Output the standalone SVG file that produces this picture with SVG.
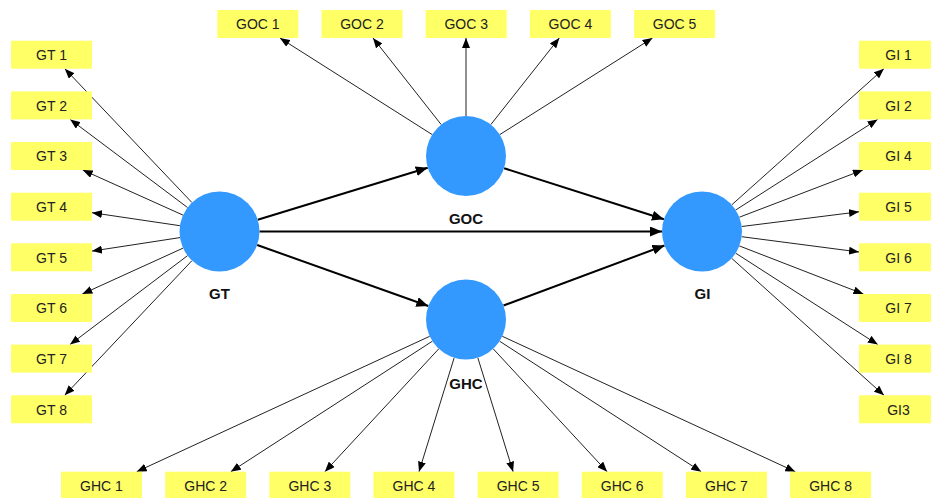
<svg xmlns="http://www.w3.org/2000/svg" width="931" height="498" viewBox="0 0 931 498">
<style>
.box{fill:#FFFF66}
.bt{font-family:"Liberation Sans",Arial,sans-serif;font-size:14px;fill:#222;text-anchor:middle}
.lv{fill:#3399FF}
.lt{font-family:"Liberation Sans",Arial,sans-serif;font-size:15px;font-weight:bold;fill:#111;text-anchor:middle}
.thin{stroke:#222;stroke-width:1;fill:none;marker-end:url(#ah)}
.thick{stroke:#000;stroke-width:2;fill:none;marker-end:url(#ahb)}
</style>
<defs>
<marker id="ah" markerUnits="userSpaceOnUse" markerWidth="10" markerHeight="8" refX="10" refY="4" orient="auto"><path d="M0,0 L10,4 L0,8 z" fill="#000"/></marker>
<marker id="ahb" markerUnits="userSpaceOnUse" markerWidth="12" markerHeight="10" refX="12" refY="5" orient="auto"><path d="M0,0 L12,5 L0,10 z" fill="#000"/></marker>
</defs>
<rect width="931" height="498" fill="#fff"/>
<g id="connectors">
<line class="thin" x1="191.9" y1="202.5" x2="64.8" y2="68.7"/>
<line class="thin" x1="187.5" y1="207.5" x2="70.2" y2="119.4"/>
<line class="thin" x1="183.0" y1="215.1" x2="82.7" y2="170"/>
<line class="thin" x1="179.9" y1="225.7" x2="92" y2="212.7"/>
<line class="thin" x1="180.0" y1="237.6" x2="92" y2="251.1"/>
<line class="thin" x1="183.1" y1="248.1" x2="82.3" y2="294"/>
<line class="thin" x1="187.6" y1="255.6" x2="70.0" y2="344.6"/>
<line class="thin" x1="192.0" y1="260.6" x2="64.7" y2="395.3"/>
<line class="thin" x1="731.8" y1="204.8" x2="883.9" y2="68.7"/>
<line class="thin" x1="735.7" y1="210.0" x2="877.6" y2="119.4"/>
<line class="thin" x1="739.4" y1="217.2" x2="862.9" y2="170"/>
<line class="thin" x1="741.7" y1="226.5" x2="859" y2="211.8"/>
<line class="thin" x1="741.7" y1="236.7" x2="859" y2="252.0"/>
<line class="thin" x1="739.3" y1="245.9" x2="863.4" y2="294"/>
<line class="thin" x1="735.6" y1="253.1" x2="877.8" y2="344.6"/>
<line class="thin" x1="731.7" y1="258.3" x2="884.0" y2="395.3"/>
<line class="thin" x1="432.2" y1="134.6" x2="279.9" y2="38"/>
<line class="thin" x1="441.2" y1="124.6" x2="373.0" y2="38"/>
<line class="thin" x1="466" y1="116" x2="466" y2="38"/>
<line class="thin" x1="490.8" y1="124.6" x2="559.3" y2="38"/>
<line class="thin" x1="499.8" y1="134.6" x2="652.5" y2="38"/>
<line class="thin" x1="429.7" y1="336.3" x2="136.7" y2="471.7"/>
<line class="thin" x1="432.4" y1="341.2" x2="230.8" y2="471.7"/>
<line class="thin" x1="438.8" y1="348.8" x2="324.9" y2="471.7"/>
<line class="thin" x1="454.2" y1="357.7" x2="419.0" y2="471.7"/>
<line class="thin" x1="477.8" y1="357.7" x2="513.1" y2="471.7"/>
<line class="thin" x1="493.2" y1="348.8" x2="607.1" y2="471.7"/>
<line class="thin" x1="499.6" y1="341.2" x2="701.2" y2="471.7"/>
<line class="thin" x1="502.3" y1="336.3" x2="795.3" y2="471.7"/>
<line class="thick" x1="257.7" y1="219.8" x2="427.7" y2="167.7"/>
<line class="thick" x1="257.2" y1="245.0" x2="428.3" y2="306.0"/>
<line class="thick" x1="259.5" y1="231.5" x2="662" y2="231.5"/>
<line class="thick" x1="504.1" y1="168.2" x2="663.9" y2="219.3"/>
<line class="thick" x1="503.5" y1="305.5" x2="664.5" y2="245.5"/>
</g>
<g id="GT"><circle class="lv" cx="219.5" cy="231.5" r="40"/><text class="lt" x="219.5" y="299.3">GT</text></g>
<g id="GOC"><circle class="lv" cx="466" cy="156" r="40"/><text class="lt" x="466" y="224.3">GOC</text></g>
<g id="GHC"><circle class="lv" cx="466" cy="319.5" r="40"/><text class="lt" x="466" y="388.5">GHC</text></g>
<g id="GI"><circle class="lv" cx="702" cy="231.5" r="40"/><text class="lt" x="702.5" y="299.3">GI</text></g>
<g id="GT1"><rect class="box" x="11" y="40.7" width="81" height="28"/><text class="bt" x="51.5" y="60">GT 1</text></g>
<g id="GT2"><rect class="box" x="11" y="91.4" width="81" height="28"/><text class="bt" x="51.5" y="110.7">GT 2</text></g>
<g id="GT3"><rect class="box" x="11" y="142" width="81" height="28"/><text class="bt" x="51.5" y="161.3">GT 3</text></g>
<g id="GT4"><rect class="box" x="11" y="192.7" width="81" height="28"/><text class="bt" x="51.5" y="212">GT 4</text></g>
<g id="GT5"><rect class="box" x="11" y="243.3" width="81" height="28"/><text class="bt" x="51.5" y="262.6">GT 5</text></g>
<g id="GT6"><rect class="box" x="11" y="294" width="81" height="28"/><text class="bt" x="51.5" y="313.3">GT 6</text></g>
<g id="GT7"><rect class="box" x="11" y="344.6" width="81" height="28"/><text class="bt" x="51.5" y="363.9">GT 7</text></g>
<g id="GT8"><rect class="box" x="11" y="395.3" width="81" height="28"/><text class="bt" x="51.5" y="414.6">GT 8</text></g>
<g id="GI1"><rect class="box" x="859" y="40.7" width="81" height="28"/><text class="bt" x="898.5" y="60">GI 1</text></g>
<g id="GI2"><rect class="box" x="859" y="91.4" width="81" height="28"/><text class="bt" x="898.5" y="110.7">GI 2</text></g>
<g id="GI4"><rect class="box" x="859" y="142" width="81" height="28"/><text class="bt" x="898.5" y="161.3">GI 4</text></g>
<g id="GI5"><rect class="box" x="859" y="192.7" width="81" height="28"/><text class="bt" x="898.5" y="212">GI 5</text></g>
<g id="GI6"><rect class="box" x="859" y="243.3" width="81" height="28"/><text class="bt" x="898.5" y="262.6">GI 6</text></g>
<g id="GI7"><rect class="box" x="859" y="294" width="81" height="28"/><text class="bt" x="898.5" y="313.3">GI 7</text></g>
<g id="GI8"><rect class="box" x="859" y="344.6" width="81" height="28"/><text class="bt" x="898.5" y="363.9">GI 8</text></g>
<g id="GI3"><rect class="box" x="859" y="395.3" width="81" height="28"/><text class="bt" x="898.5" y="414.6">GI3</text></g>
<g id="GOC1"><rect class="box" x="217.3" y="10" width="81" height="28"/><text class="bt" x="257.8" y="29.3">GOC 1</text></g>
<g id="GOC2"><rect class="box" x="321.5" y="10" width="81" height="28"/><text class="bt" x="362" y="29.3">GOC 2</text></g>
<g id="GOC3"><rect class="box" x="425.7" y="10" width="81" height="28"/><text class="bt" x="466.2" y="29.3">GOC 3</text></g>
<g id="GOC4"><rect class="box" x="529.9" y="10" width="81" height="28"/><text class="bt" x="570.4" y="29.3">GOC 4</text></g>
<g id="GOC5"><rect class="box" x="634.1" y="10" width="81" height="28"/><text class="bt" x="674.6" y="29.3">GOC 5</text></g>
<g id="GHC1"><rect class="box" x="61" y="471.7" width="81" height="28"/><text class="bt" x="101.5" y="490.8">GHC 1</text></g>
<g id="GHC2"><rect class="box" x="165.15" y="471.7" width="81" height="28"/><text class="bt" x="205.65" y="490.8">GHC 2</text></g>
<g id="GHC3"><rect class="box" x="269.3" y="471.7" width="81" height="28"/><text class="bt" x="309.8" y="490.8">GHC 3</text></g>
<g id="GHC4"><rect class="box" x="373.45" y="471.7" width="81" height="28"/><text class="bt" x="413.95" y="490.8">GHC 4</text></g>
<g id="GHC5"><rect class="box" x="477.6" y="471.7" width="81" height="28"/><text class="bt" x="518.1" y="490.8">GHC 5</text></g>
<g id="GHC6"><rect class="box" x="581.75" y="471.7" width="81" height="28"/><text class="bt" x="622.25" y="490.8">GHC 6</text></g>
<g id="GHC7"><rect class="box" x="685.9" y="471.7" width="81" height="28"/><text class="bt" x="726.4" y="490.8">GHC 7</text></g>
<g id="GHC8"><rect class="box" x="790.05" y="471.7" width="81" height="28"/><text class="bt" x="830.55" y="490.8">GHC 8</text></g>
</svg>
